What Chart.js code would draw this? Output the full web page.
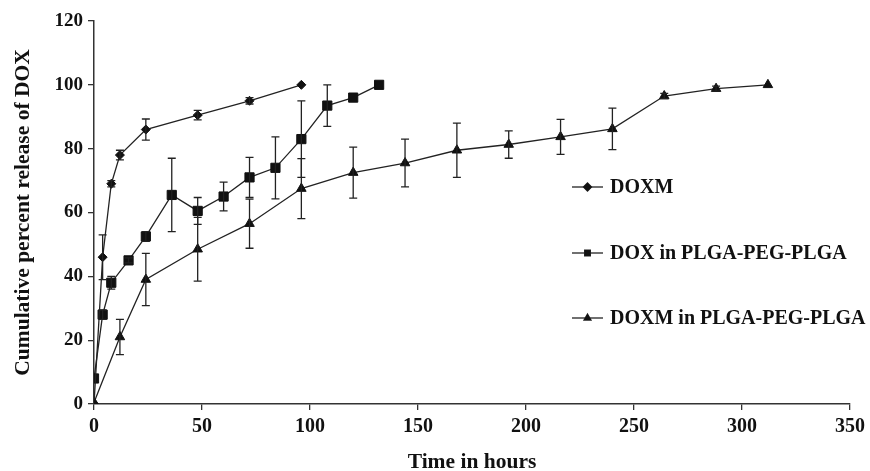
<!DOCTYPE html>
<html>
<head>
<meta charset="utf-8">
<script src="https://cdn.jsdelivr.net/npm/chart.js@4"></script>
<style>
  html, body { margin: 0; padding: 0; background: #fff; }
  #wrap { width: 870px; height: 471px; position: relative; }
</style>
</head>
<body>
<div id="wrap"><canvas id="release-chart"></canvas></div>
<script>
// ---- data ----
const doxmHours = [0, 4, 8, 12, 24, 48, 72, 96];
const doxmRelease = [0, 46, 69, 78, 86, 90.5, 95, 100];
const doxmErr = [0, 7, 1, 1.5, 3.3, 1.5, 1, 0];

const doxGelHours = [0, 4, 8, 16, 24, 36, 48, 60, 72, 84, 96, 108, 120, 132];
const doxGelRelease = [8, 28, 38, 45, 52.5, 65.5, 60.5, 65, 71, 74, 83, 93.5, 96, 100];
const doxGelErr = [0, 1.5, 2, 0.8, 1.5, 11.5, 4.2, 4.5, 6.3, 9.7, 12, 6.5, 0, 0];

const doxmGelHours = [0, 12, 24, 48, 72, 96, 120, 144, 168, 192, 216, 240, 264, 288, 312];
const doxmGelRelease = [0.5, 21, 39, 48.5, 56.5, 67.5, 72.5, 75.5, 79.5, 81.3, 83.7, 86.2, 96.5, 98.8, 100];
const doxmGelErr = [0, 5.5, 8.2, 10, 7.7, 9.4, 8, 7.5, 8.5, 4.3, 5.5, 6.5, 0.8, 0.8, 0];

const seriesLabels = ['DOXM', 'DOX in PLGA-PEG-PLGA', 'DOXM in PLGA-PEG-PLGA'];
const xTicks = [0, 50, 100, 150, 200, 250, 300, 350];
const yTicks = [0, 20, 40, 60, 80, 100, 120];

const INK = '#222';
const FONT = '"Liberation Serif", "Times New Roman", serif';

const toPoints = (xs, ys) => xs.map((x, i) => ({ x: x, y: ys[i] }));

function series(label, xs, ys, errs, style, radius) {
  return {
    label: label,
    data: toPoints(xs, ys),
    errors: errs,
    borderColor: INK,
    backgroundColor: INK,
    borderWidth: 1.3,
    pointStyle: style,
    pointRadius: radius,
    pointBackgroundColor: '#111',
    pointBorderColor: '#111',
    pointBorderWidth: 1,
    tension: 0,
    fill: false
  };
}

// error bars, drawn through the chart's own scales
const errorBars = {
  id: 'errorBars',
  afterDatasetsDraw(chart) {
    const { ctx, scales: { x, y } } = chart;
    ctx.save();
    ctx.strokeStyle = INK;
    ctx.lineWidth = 1.3;
    chart.data.datasets.forEach(ds => {
      ds.data.forEach((p, i) => {
        const e = ds.errors[i];
        if (!e) return;
        const px = x.getPixelForValue(p.x);
        const top = y.getPixelForValue(p.y + e);
        const bot = y.getPixelForValue(p.y - e);
        ctx.beginPath();
        ctx.moveTo(px, top); ctx.lineTo(px, bot);
        ctx.moveTo(px - 4, top); ctx.lineTo(px + 4, top);
        ctx.moveTo(px - 4, bot); ctx.lineTo(px + 4, bot);
        ctx.stroke();
      });
    });
    ctx.restore();
  }
};

// legend sitting inside the plot, one row per series
const sideLegend = {
  id: 'sideLegend',
  afterDraw(chart) {
    const { ctx } = chart;
    const rows = [187, 253, 318];
    ctx.save();
    ctx.font = 'bold 20px ' + FONT;
    ctx.textBaseline = 'middle';
    chart.data.datasets.forEach((ds, i) => {
      const yy = rows[i];
      ctx.strokeStyle = INK;
      ctx.lineWidth = 1.3;
      ctx.beginPath();
      ctx.moveTo(572, yy); ctx.lineTo(603, yy);
      ctx.stroke();
      ctx.fillStyle = '#111';
      Chart.helpers.drawPoint(ctx, { pointStyle: ds.pointStyle, radius: 4, borderWidth: 1 }, 587.5, yy);
      ctx.fill();
      ctx.fillStyle = '#111';
      ctx.fillText(ds.label, 610, yy + 1);
    });
    ctx.restore();
  }
};

new Chart(document.getElementById('release-chart'), {
  type: 'line',
  data: {
    datasets: [
      series(seriesLabels[0], doxmHours, doxmRelease, doxmErr, 'rectRot', 4.5),
      series(seriesLabels[1], doxGelHours, doxGelRelease, doxGelErr, 'rect', 6.5),
      series(seriesLabels[2], doxmGelHours, doxmGelRelease, doxmGelErr, 'triangle', 5.5)
    ]
  },
  options: {
    responsive: true,
    maintainAspectRatio: false,
    animation: false,
    layout: { padding: { top: 21, right: 17, left: 0, bottom: 0 } },
    plugins: { legend: { display: false }, tooltip: { enabled: false } },
    scales: {
      x: {
        type: 'linear',
        min: 0, max: 350,
        afterBuildTicks: s => { s.ticks = xTicks.map(v => ({ value: v })); },
        afterFit: s => { s.height = 67; },
        border: { color: '#333', width: 1.5 },
        grid: { drawOnChartArea: false, drawTicks: true, tickLength: 6, color: '#333', lineWidth: 1.3 },
        ticks: { color: '#111', padding: 5, font: { family: FONT, size: 20, weight: 'bold' } },
        title: {
          display: true, text: 'Time in hours', color: '#111',
          font: { family: FONT, size: 21.5, weight: 'bold' },
          padding: { top: 12, bottom: -4 }
        }
      },
      y: {
        min: 0, max: 120,
        afterBuildTicks: s => { s.ticks = yTicks.map(v => ({ value: v })); },
        afterFit: s => { s.width = 94; },
        border: { color: '#333', width: 1.5 },
        grid: { drawOnChartArea: false, drawTicks: true, tickLength: 6, color: '#333', lineWidth: 1.3 },
        ticks: { color: '#111', padding: 5, font: { family: FONT, size: 19, weight: 'bold' } },
        title: {
          display: true, text: 'Cumulative percent release of DOX', color: '#111',
          font: { family: FONT, size: 21.5, weight: 'bold' },
          padding: { top: 11, bottom: 4 }
        }
      }
    }
  },
  plugins: [errorBars, sideLegend]
});
</script>
</body>
</html>
